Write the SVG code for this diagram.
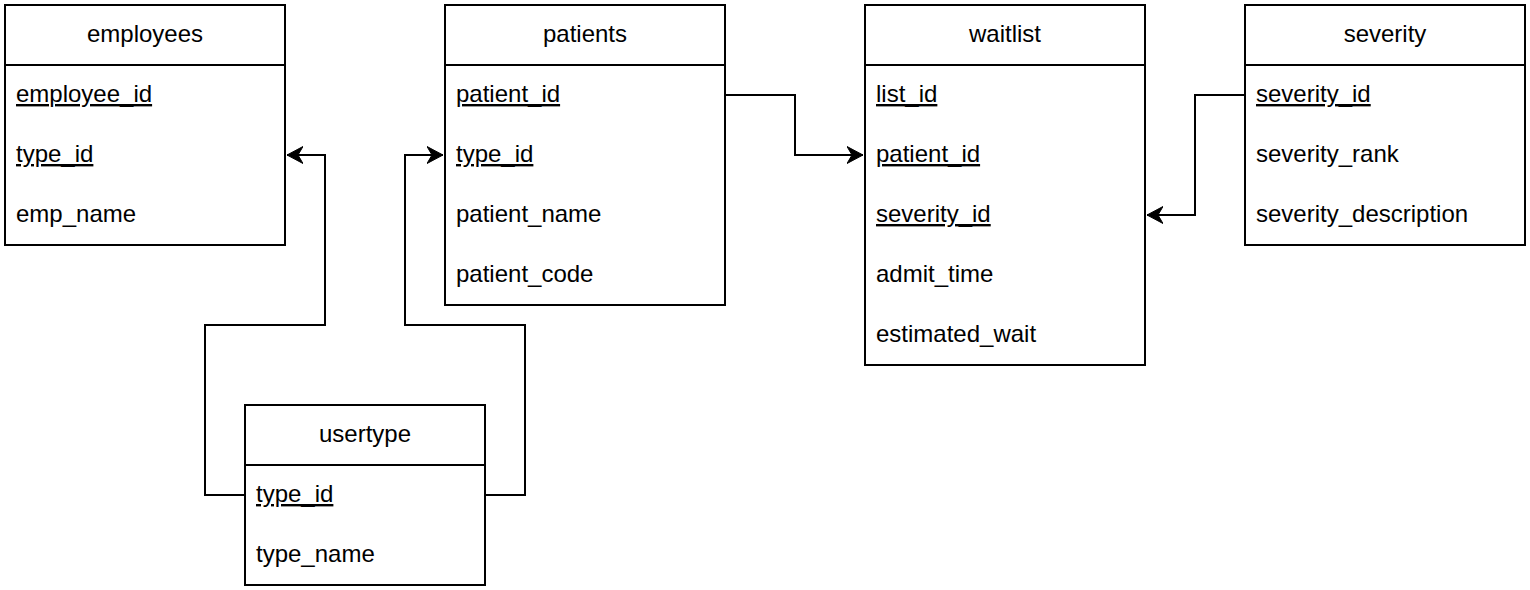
<svg xmlns="http://www.w3.org/2000/svg" width="1530" height="590" viewBox="0 0 1530 590">
<style>
.box{fill:#fff;stroke:#000;stroke-width:2}
.sep{stroke:#000;stroke-width:2}
.h{font-family:"Liberation Sans",Arial,sans-serif;font-size:24px;fill:#000;text-anchor:middle}
.f{font-family:"Liberation Sans",Arial,sans-serif;font-size:24px;fill:#000}
.u{text-decoration:underline}
.c{fill:none;stroke:#000;stroke-width:2}
</style>
<defs>
<marker id="arr" markerUnits="userSpaceOnUse" markerWidth="20" markerHeight="20" viewBox="-16 -10 20 20" refX="0" refY="0" orient="auto">
<path d="M0,0 L-16,-8.5 L-11,0 L-16,8.5 Z" fill="#000" stroke="#000" stroke-width="1"/>
</marker>
</defs>
<g id="connectors">
<path class="c" d="M725,95 H795 V155 H863" marker-end="url(#arr)"/>
<path class="c" d="M1245,95 H1195 V215 H1147" marker-end="url(#arr)"/>
<path class="c" d="M245,495 H205 V325 H325 V155 H287" marker-end="url(#arr)"/>
<path class="c" d="M485,495 H525 V325 H405 V155 H443" marker-end="url(#arr)"/>
</g>
<g id="employees">
<rect class="box" x="5" y="5" width="280" height="240"/>
<line class="sep" x1="5" y1="65" x2="285" y2="65"/>
<text class="h" x="145" y="42">employees</text>
<text class="f u" x="16" y="102">employee_id</text>
<text class="f u" x="16" y="162">type_id</text>
<text class="f" x="16" y="222">emp_name</text>
</g>
<g id="patients">
<rect class="box" x="445" y="5" width="280" height="300"/>
<line class="sep" x1="445" y1="65" x2="725" y2="65"/>
<text class="h" x="585" y="42">patients</text>
<text class="f u" x="456" y="102">patient_id</text>
<text class="f u" x="456" y="162">type_id</text>
<text class="f" x="456" y="222">patient_name</text>
<text class="f" x="456" y="282">patient_code</text>
</g>
<g id="waitlist">
<rect class="box" x="865" y="5" width="280" height="360"/>
<line class="sep" x1="865" y1="65" x2="1145" y2="65"/>
<text class="h" x="1005" y="42">waitlist</text>
<text class="f u" x="876" y="102">list_id</text>
<text class="f u" x="876" y="162">patient_id</text>
<text class="f u" x="876" y="222">severity_id</text>
<text class="f" x="876" y="282">admit_time</text>
<text class="f" x="876" y="342">estimated_wait</text>
</g>
<g id="severity">
<rect class="box" x="1245" y="5" width="280" height="240"/>
<line class="sep" x1="1245" y1="65" x2="1525" y2="65"/>
<text class="h" x="1385" y="42">severity</text>
<text class="f u" x="1256" y="102">severity_id</text>
<text class="f" x="1256" y="162">severity_rank</text>
<text class="f" x="1256" y="222">severity_description</text>
</g>
<g id="usertype">
<rect class="box" x="245" y="405" width="240" height="180"/>
<line class="sep" x1="245" y1="465" x2="485" y2="465"/>
<text class="h" x="365" y="442">usertype</text>
<text class="f u" x="256" y="502">type_id</text>
<text class="f" x="256" y="562">type_name</text>
</g>
</svg>
